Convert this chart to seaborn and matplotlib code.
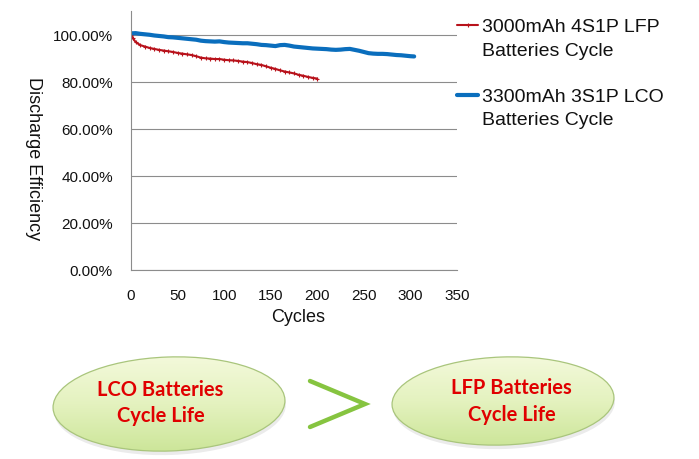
import numpy as np
import pandas as pd
import matplotlib
matplotlib.use("Agg")
import matplotlib.pyplot as plt
import seaborn as sns
from matplotlib.patches import Ellipse
from matplotlib.ticker import PercentFormatter
from matplotlib.legend_handler import HandlerLine2D
from matplotlib.colors import LinearSegmentedColormap

# ---------------- data ----------------
lfp_cycles = [0, 2, 5, 10, 15, 20, 25, 30, 35, 40, 45, 50, 55, 60, 65, 70, 75, 80,
              85, 90, 95, 100, 105, 110, 115, 120, 125, 130, 135, 140, 145, 150,
              155, 160, 165, 170, 175, 180, 185, 190, 195, 200]
lfp_eff = [99.8, 98.4, 96.8, 95.5, 94.9, 94.3, 93.9, 93.5, 93.2, 92.9, 92.6, 92.2,
           91.9, 91.6, 91.3, 90.8, 90.2, 89.9, 89.8, 89.6, 89.6, 89.3, 89.1, 89.0,
           88.8, 88.5, 88.3, 87.9, 87.4, 87.1, 86.5, 85.9, 85.4, 84.8, 84.3, 83.9,
           83.5, 82.9, 82.5, 82.0, 81.6, 81.3]

lco_cycles = [0, 5, 10, 15, 20, 25, 30, 35, 40, 45, 50, 55, 60, 65, 70, 75, 80, 85,
              90, 95, 100, 105, 110, 115, 120, 125, 130, 135, 140, 145, 150, 155,
              160, 165, 170, 175, 180, 185, 190, 195, 200, 205, 210, 215, 220, 225,
              230, 235, 240, 245, 250, 255, 260, 265, 270, 275, 280, 285, 290, 295,
              300, 304]
lco_eff = [100.5, 100.6, 100.3, 100.1, 99.9, 99.6, 99.4, 99.2, 98.9, 98.8, 98.6,
           98.4, 98.2, 98.0, 97.8, 97.4, 97.2, 97.1, 97.0, 97.1, 96.8, 96.6, 96.5,
           96.4, 96.3, 96.3, 96.1, 95.9, 95.6, 95.5, 95.3, 95.1, 95.5, 95.6, 95.3,
           94.9, 94.7, 94.5, 94.3, 94.1, 94.0, 93.9, 93.8, 93.6, 93.5, 93.6, 93.8,
           93.9, 93.5, 93.1, 92.6, 92.1, 91.9, 91.8, 91.8, 91.7, 91.5, 91.3, 91.2,
           91.0, 90.8, 90.7]

lfp_label = "3000mAh 4S1P LFP\nBatteries Cycle"
lco_label = "3300mAh 3S1P LCO\nBatteries Cycle"
x_ticks = [0, 50, 100, 150, 200, 250, 300, 350]
y_ticks = [0, 20, 40, 60, 80, 100]

bubble_left = ["LCO Batteries", "Cycle Life"]
bubble_right = ["LFP Batteries", "Cycle Life"]

# ---------------- styling ----------------
sns.set_style("white")
plt.rcParams["font.family"] = ["Liberation Sans", "DejaVu Sans"]

RED = "#B8121B"
BLUE = "#0A6EBD"
GRAY = "#8C8C8C"

W, H = 699, 460
fig = plt.figure(figsize=(W / 100, H / 100), dpi=100)

# background axes in pixel coordinates for the decorative bubbles
bg = fig.add_axes([0, 0, 1, 1])
bg.set_xlim(0, W)
bg.set_ylim(H, 0)
bg.axis("off")

ax = fig.add_axes([131 / W, 1 - 271 / H, 326 / W, 259 / H])

df_lfp = pd.DataFrame({"Cycles": lfp_cycles, "eff": lfp_eff})
df_lco = pd.DataFrame({"Cycles": lco_cycles, "eff": lco_eff})

sns.lineplot(data=df_lfp, x="Cycles", y="eff", ax=ax, color=RED, linewidth=1.5,
             marker="+", markersize=3, markeredgewidth=0.8,
             markeredgecolor=RED, markerfacecolor=RED, linestyle="-",
             label=lfp_label)
sns.lineplot(data=df_lco, x="Cycles", y="eff", ax=ax, color=BLUE, linewidth=3.0,
             linestyle="-", label=lco_label)

ax.set_xlim(0, 350)
ax.set_ylim(0, 110)
ax.set_xticks(x_ticks)
ax.set_yticks(y_ticks)
ax.yaxis.set_major_formatter(PercentFormatter(100, decimals=2))
ax.grid(axis="y", color=GRAY, linewidth=0.8)
ax.grid(axis="x", visible=False)
ax.set_axisbelow(True)
for s in ["top", "right"]:
    ax.spines[s].set_visible(False)
for s in ["left", "bottom"]:
    ax.spines[s].set_color(GRAY)
    ax.spines[s].set_linewidth(0.8)
ax.tick_params(axis="both", direction="out", colors=GRAY, labelcolor="#111111",
               labelsize=11, width=0.8)
ax.tick_params(axis="y", length=4.5, pad=8.5)
ax.tick_params(axis="x", length=3, pad=10)
ax.set_xlabel("")
ax.set_ylabel("")

fig.text(298 / W, 1 - 318 / H, "Cycles", ha="center", va="center",
         fontsize=13, color="#111111")
fig.text(33 / W, 1 - 159 / H, "Discharge Efficiency", ha="center", va="center",
         rotation=270, fontsize=13, color="#111111")


class TopLineHandler(HandlerLine2D):
    """Align the legend sample with the first line of a two-line label."""
    def __init__(self, shift, **kw):
        super().__init__(**kw)
        self.shift = shift

    def create_artists(self, legend, orig_handle, xdescent, ydescent, width,
                       height, fontsize, trans):
        arts = super().create_artists(legend, orig_handle, xdescent, ydescent,
                                      width, height, fontsize, trans)
        for a in arts:
            a.set_ydata(np.asarray(a.get_ydata(), dtype=float) + self.shift)
        return arts


handles, labels = ax.get_legend_handles_labels()
hmap = {h: TopLineHandler(9.0) for h in handles}
leg = ax.legend(handles, labels, loc="upper left",
                bbox_to_anchor=(457 / W, 1 - 19 / H),
                bbox_transform=fig.transFigure, frameon=False, fontsize=14,
                handlelength=1.1, handletextpad=0.2, borderpad=0, borderaxespad=0,
                labelspacing=1.5, handler_map=hmap)
for t in leg.get_texts():
    t.set_linespacing(1.5)
    t.set_color("#111111")

# ---------------- decorative bubbles ----------------
cmap = LinearSegmentedColormap.from_list("g", ["#F3F9DA", "#E4F2BF", "#CDE69A"])


def bubble(cx, cy, w, h, angle=0):
    shadow = Ellipse((cx + 1, cy + 4), w, h, angle=angle, facecolor="#000000",
                     alpha=0.08, edgecolor="none", zorder=1)
    bg.add_patch(shadow)
    e = Ellipse((cx, cy), w, h, angle=angle, facecolor="none",
                edgecolor="#A9C57C", linewidth=0.9, zorder=3)
    bg.add_patch(e)
    grad = np.linspace(0, 1, 100).reshape(-1, 1)
    im = bg.imshow(grad, extent=(cx - w / 2, cx + w / 2, cy + h / 2, cy - h / 2),
                   cmap=cmap, aspect="auto", zorder=2, interpolation="bilinear")
    clip = Ellipse((cx, cy), w, h, angle=angle, transform=bg.transData)
    im.set_clip_path(clip)


bubble(169, 405, 232, 94, angle=-2)
bubble(503, 402, 222, 88, angle=-2)
bg.set_xlim(0, W)
bg.set_ylim(H, 0)

txt_kw = dict(ha="center", va="center", fontsize=14.5, fontweight="bold",
              color="#E00000", family=["Lato", "DejaVu Sans"], zorder=5)
bg.text(160, 390, bubble_left[0], **txt_kw)
bg.text(161, 416, bubble_left[1], **txt_kw)
bg.text(511, 388, bubble_right[0], **txt_kw)
bg.text(512, 415, bubble_right[1], **txt_kw)

# green ">" sign
bg.plot([310, 365, 310], [382, 405, 428], color="#86C440", linewidth=3.2,
        solid_joinstyle="miter", zorder=4)

fig.savefig("out.png", dpi=100)
